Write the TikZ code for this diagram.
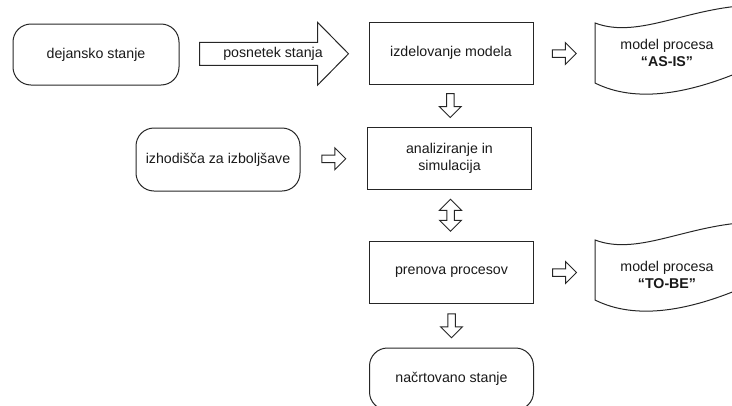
\documentclass[tikz,border=0pt]{standalone}
\usepackage{fontspec}
\setmainfont{Liberation Sans}
\usetikzlibrary{calc}

\begin{document}
\begin{tikzpicture}[x=1pt,y=-1pt,
  font=\fontsize{14.2}{17}\selectfont,
  line/.style={draw=black!85, line width=1pt, line join=miter},
  box/.style={line, minimum width=164pt, minimum height=62pt, inner sep=0pt,
              align=center, text=black!90},
  roundbox/.style={box, rounded corners=18pt},
  label/.style={align=center, text=black!90, inner sep=0pt},
  % small hollow arrow pointing along +x
  hollow arrow/.pic={\draw[line] (-12,-3.75) -- (1,-3.75) -- (1,-11) -- (12,0)
      -- (1,11) -- (1,3.75) -- (-12,3.75) -- cycle;},
  % small hollow two-headed arrow along x
  hollow double/.pic={\draw[line] (-16,0) -- (-5,-11) -- (-5,-3.75) -- (5,-3.75)
      -- (5,-11) -- (16,0) -- (5,11) -- (5,3.75) -- (-5,3.75) -- (-5,11) -- cycle;},
  % wavy document outline, top-left corner at the origin
  docshape/.pic={\draw[line] (0,0) .. controls (45,17) and (95,-18) .. (165,-18)
      -- (165,40) .. controls (95,73) and (40,80) .. (0,60) -- cycle;}
]
\useasboundingbox (0,0) rectangle (732,405);
\clip (0,0) rectangle (732,405);

% process column
\node[box] (izd) at (451,53) {izdelovanje modela};
\node[box] (ana) at (449.5,158) {analiziranje in\\simulacija};
\node[box] (pre) at (451.5,272.5) {prenova procesov};
\node[roundbox] (nac) at (451.5,379) {na\v{c}rtovano stanje};

% inputs on the left
\node[roundbox, minimum width=166pt, minimum height=61pt] (dej) at (96,54.5) {dejansko stanje};
\node[roundbox, minimum height=63pt] (izh) at (218,159.5) {izhodi\v{s}\v{c}a za izbolj\v{s}ave};

% big arrow with label
\coordinate (pc) at ($(dej.east)!0.5!(izd.west)$);
\begin{scope}[shift={(pc)}]
  \draw[line] (-74.5,-11.5) -- (43.5,-11.5) -- (43.5,-31.5) -- (74.5,0)
      -- (43.5,31.5) -- (43.5,11.5) -- (-74.5,11.5) -- cycle;
  \node[label] (posn) at (-1,0) {posnetek stanja};
\end{scope}

% process model documents
\pic at (595,23) {docshape};
\node[label] (asis) at (667,53) {model procesa\\\textbf{“AS-IS”}};
\coordinate (asisL) at (595,54);
\pic at (595,240) {docshape};
\node[label] (tobe) at (667,275) {model procesa\\\textbf{“TO-BE”}};
\coordinate (tobeL) at (595,272.5);

% hollow arrows between the steps
\pic at ($(izd.east)!0.5!(asisL)$) {hollow arrow};
\pic at ($(pre.east)!0.5!(tobeL)$) {hollow arrow};
\pic at ($(izh.east)!0.5!(ana.west)$) {hollow arrow};
\pic[rotate=-90] at ($(izd.south)!0.5!(ana.north)$) {hollow arrow};
\pic[rotate=-90] at ($(pre.south)!0.5!(nac.north)$) {hollow arrow};
\pic[rotate=90] at ($(ana.south)!0.5!(pre.north)$) {hollow double};
\end{tikzpicture}
\end{document}
